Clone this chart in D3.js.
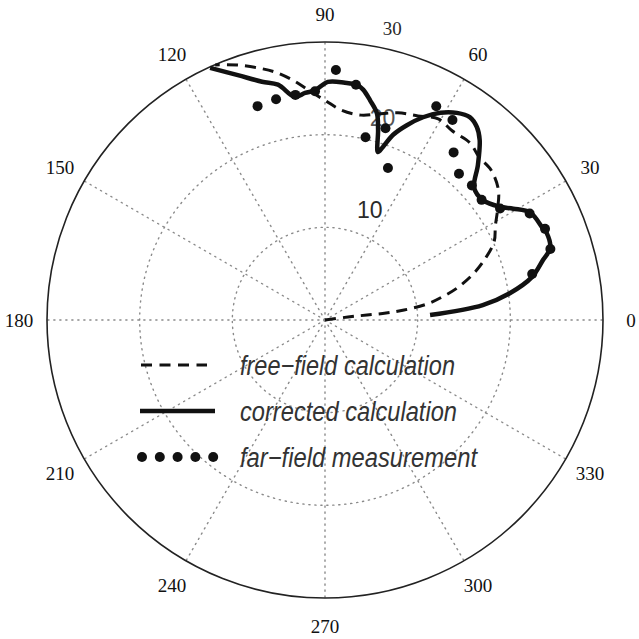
<!DOCTYPE html>
<html>
<head>
<meta charset="utf-8">
<script src="https://cdn.jsdelivr.net/npm/d3@7"></script>
<style>
  html, body { margin: 0; padding: 0; background: #fff; }
  svg { display: block; }
</style>
</head>
<body>
<svg id="chart" width="639" height="639"></svg>
<script>
// Polar directivity plot: free-field vs corrected calculation, with far-field measurements.

// Angular grid (degrees) and their labels
const angleTicks = [0, 30, 60, 90, 120, 150, 180, 210, 240, 270, 300, 330];
const angleLabels = ["0", "30", "60", "90", "120", "150", "180", "210", "240", "270", "300", "330"];

// Radial rings and their labels
const ringValues = [10, 20, 30];
const ringLabels = ["10", "20", "30"];

// Free-field calculation (angle in degrees, level)
const freeAngles = [5, 7.4, 6.8, 6.5, 7.2, 8.9, 11.1, 13.6, 17.0, 20.2, 24.8, 28.9, 32.9, 36.9, 42.1, 46.6, 50.7, 56.1, 60.6, 65.5, 70.6, 75.6, 80.0, 85.4, 90, 94.2, 97.6, 101.4, 104.7, 109.0, 113.3];
const freeValues = [0, 2.5, 4.56, 6.63, 8.6, 11.14, 12.87, 14.66, 16.6, 18.17, 20.1, 21.0, 22.2, 23.4, 24.15, 24.2, 24.7, 24.6, 24.9, 24.2, 23.7, 22.95, 22.45, 22.7, 23.7, 24.9, 26.1, 27.3, 28.1, 29.1, 29.97];

// Corrected calculation
const corrAngles = [2.7, 5.4, 8.3, 11.7, 15.4, 17.7, 21.4, 22.9, 27.6, 30.6, 32.9, 37.2, 41.5, 45.4, 49.3, 51.8, 54.5, 57.5, 60.9, 64.2, 67.2, 69.8, 71.5, 72.5, 74.4, 75.9, 78.4, 80.6, 82.2, 85.2, 89.3, 92.5, 95.0, 97.7, 101.3, 104.8, 109.6, 114.5];
const corrValues = [11.35, 17.1, 20.2, 22.8, 24.4, 25.5, 25.7, 25.5, 25.0, 23.6, 22.5, 21.4, 21.5, 23.5, 25.6, 26.5, 26.9, 26.5, 25.6, 24.3, 22.8, 21.3, 19.7, 19.0, 21.3, 23.0, 24.2, 25.2, 25.6, 25.7, 25.7, 24.8, 24.6, 24.3, 25.9, 26.6, 28.05, 29.9];

// Far-field measurement
const measAngles = [12.5, 17.5, 22.5, 27.5, 32.5, 37.5, 42.5, 47.5, 52.5, 57.5, 62.5, 67.5, 72.5, 77.5, 82.5, 87.5, 92.5, 97.5, 102.5, 107.5];
const measValues = [22.9, 25.5, 25.7, 24.9, 22.4, 21.3, 21.5, 21.4, 22.8, 25.6, 26.0, 17.75, 21.7, 20.2, 25.6, 27.0, 24.7, 24.5, 24.4, 24.2];

// Legend entries
const legendLabels = ["free\u2212field calculation", "corrected calculation", "far\u2212field measurement"];

const svg = d3.select("#chart");
const cx = 325, cy = 320, R = 278;

const r = d3.scaleLinear().domain([0, 30]).range([0, R]);
const rad = d => d * Math.PI / 180;
const px = (a, v) => cx + r(v) * Math.cos(rad(a));
const py = (a, v) => cy - r(v) * Math.sin(rad(a));

svg.append("rect").attr("width", 639).attr("height", 639).attr("fill", "#fff");

const grid = svg.append("g");
const gridStyle = sel => sel.attr("fill", "none").attr("stroke", "#8a8a8a")
  .attr("stroke-width", 1.4).attr("stroke-dasharray", "1.2 4.8").attr("stroke-linecap", "round");

// spokes
grid.selectAll("line.spoke").data(angleTicks).join("line")
  .attr("class", "spoke")
  .attr("x1", cx).attr("y1", cy)
  .attr("x2", d => px(d, 30)).attr("y2", d => py(d, 30))
  .call(gridStyle);

// inner rings
grid.selectAll("circle.ring").data(ringValues.slice(0, -1)).join("circle")
  .attr("class", "ring")
  .attr("cx", cx).attr("cy", cy).attr("r", d => r(d))
  .call(gridStyle);

// ring labels
svg.append("g").selectAll("text").data(ringValues).join("text")
  .attr("x", d => px(82, d) + 19)
  .attr("y", d => py(82, d) - 10)
  .attr("text-anchor", "start")
  .attr("font-family", (d, i) => i === ringValues.length - 1 ? "'Liberation Serif', 'Times New Roman', serif" : "'Liberation Sans', Arial, sans-serif")
  .attr("font-size", (d, i) => i === ringValues.length - 1 ? 19 : 23)
  .attr("fill", (d, i) => i === 1 ? "#555" : "#2a2a2a")
  .text((d, i) => ringLabels[i]);

// outer circle
svg.append("circle")
  .attr("cx", cx).attr("cy", cy).attr("r", r(30))
  .attr("fill", "none").attr("stroke", "#222").attr("stroke-width", 1.6);

// angle labels
svg.append("g").selectAll("text").data(angleTicks).join("text")
  .attr("x", d => cx + (R + 28) * Math.cos(rad(d)))
  .attr("y", d => cy - (R + 28) * Math.sin(rad(d)))
  .attr("text-anchor", "middle")
  .attr("dominant-baseline", "central")
  .attr("font-family", "'Liberation Serif', 'Times New Roman', serif")
  .attr("font-size", 19)
  .attr("fill", "#111")
  .text((d, i) => angleLabels[i]);

const line = d3.line()
  .x(d => px(d[0], d[1])).y(d => py(d[0], d[1]))
  .curve(d3.curveCatmullRom.alpha(0.5));

// free-field (dashed)
svg.append("path")
  .attr("d", line(d3.zip(freeAngles, freeValues)))
  .attr("fill", "none").attr("stroke", "#111").attr("stroke-width", 3)
  .attr("stroke-dasharray", "11 7");

// corrected (solid)
svg.append("path")
  .attr("d", line(d3.zip(corrAngles, corrValues)))
  .attr("fill", "none").attr("stroke", "#111").attr("stroke-width", 4.5)
  .attr("stroke-linejoin", "round");

// measurement dots
svg.append("g").selectAll("circle").data(d3.zip(measAngles, measValues)).join("circle")
  .attr("cx", d => px(d[0], d[1])).attr("cy", d => py(d[0], d[1]))
  .attr("r", 5).attr("fill", "#111");

// legend
const lg = svg.append("g");
const legendY = [365, 411, 457];
const textWidths = [215, 217, 237];
lg.append("line").attr("x1", 141).attr("x2", 207).attr("y1", legendY[0]).attr("y2", legendY[0])
  .attr("stroke", "#111").attr("stroke-width", 3).attr("stroke-dasharray", "11 7.5");
lg.append("line").attr("x1", 140).attr("x2", 215).attr("y1", legendY[1]).attr("y2", legendY[1])
  .attr("stroke", "#111").attr("stroke-width", 4.5);
lg.selectAll("circle").data([0, 1, 2, 3, 4]).join("circle")
  .attr("cx", d => 142 + d * 17.8).attr("cy", legendY[2]).attr("r", 5).attr("fill", "#111");
lg.selectAll("text").data(legendLabels).join("text")
  .attr("x", 240).attr("y", (d, i) => legendY[i] + 10)
  .attr("font-family", "'Liberation Sans', Arial, sans-serif")
  .attr("font-style", "italic")
  .attr("font-size", 27)
  .attr("fill", "#333")
  .attr("textLength", (d, i) => textWidths[i])
  .attr("lengthAdjust", "spacingAndGlyphs")
  .text(d => d);
</script>
</body>
</html>
